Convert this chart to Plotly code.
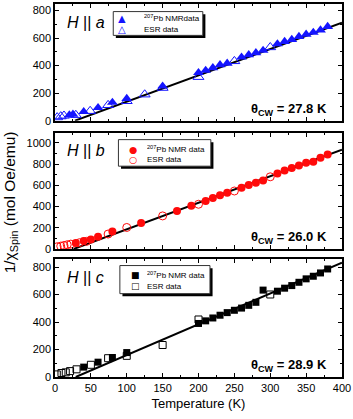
import plotly.graph_objects as go
from plotly.subplots import make_subplots

# ---- data ----
# H || a
nmr_a_T = [20, 25, 40, 60, 80, 100, 150, 200, 210, 220, 230, 240, 260, 270, 280,
           290, 310, 320, 330, 340, 350, 360, 370, 380]
nmr_a = [41, 46, 65, 94, 132, 161, 250, 348, 365, 384, 406, 416, 461, 478, 493,
         510, 557, 574, 589, 611, 627, 641, 658, 683]
esr_a_T = [3, 8, 12.5, 29, 49, 74, 100, 125, 150, 200, 250, 300]
esr_a = [24, 31, 36, 41, 70, 113, 142, 190, 238, 317, 432, 533]
fit_a_T = [27.8, 400]
fit_a = [0, 711]

# H || b
nmr_b_T = [29, 40, 50, 60, 80, 120, 170, 190, 210, 220, 230, 240, 260, 270, 280,
           290, 310, 320, 330, 340, 350, 360, 370, 380]
nmr_b = [56, 75, 90, 116, 166, 244, 359, 407, 453, 481, 506, 531, 578, 603, 625,
         647, 713, 741, 763, 788, 813, 822, 860, 891]
esr_b_T = [3, 8, 12.5, 17, 22, 34, 44, 74, 100, 150, 200, 250, 300]
esr_b = [21, 27, 33, 40, 46, 59, 72, 141, 203, 312, 422, 547, 681]
fit_b_T = [26.0, 400]
fit_b = [0, 937]

# H || c
nmr_c_T = [40, 60, 80, 100, 200, 210, 220, 230, 240, 250, 260, 270, 280, 290,
           310, 320, 330, 340, 350, 360, 370, 380]
nmr_c = [72, 108, 142, 178, 390, 409, 430, 450, 469, 486, 502, 522, 544, 633,
         625, 647, 666, 690, 715, 734, 758, 787]
esr_c_T = [2.5, 9, 15, 21, 30, 50, 74, 100, 150, 200, 300]
esr_c = [19, 29, 34, 43, 56, 89, 137, 154, 233, 419, 601]
fit_c_T = [28.9, 400]
fit_c = [0, 833]

x_ticks = [0, 50, 100, 150, 200, 250, 300, 350, 400]
y_ranges = [[0, 847], [0, 1094], [0, 860]]
panel_labels = ["a", "b", "c"]
theta_cw = ["27.8", "26.0", "28.9"]
nmr_names = ["<sup>207</sup>Pb NMRdata", "<sup>207</sup>Pb NMR data", "<sup>207</sup>Pb NMR data"]

BLUE = "#1414ff"
RED = "#ff0a0a"
BLACK = "#000000"
FONT = "Arial, 'Liberation Sans', sans-serif"

panels = [
    (nmr_a_T, nmr_a, esr_a_T, esr_a, fit_a_T, fit_a, BLUE, "triangle-up", 9.5),
    (nmr_b_T, nmr_b, esr_b_T, esr_b, fit_b_T, fit_b, RED, "circle", 8),
    (nmr_c_T, nmr_c, esr_c_T, esr_c, fit_c_T, fit_c, BLACK, "square", 7),
]
legend_symbols = [("▲", "△"), ("●", "○"), ("■", "□")]

fig = make_subplots(rows=3, cols=1, shared_xaxes=True, vertical_spacing=0.03)

for i, (nT, nv, eT, ev, fT, fv, col, sym, size) in enumerate(panels):
    row = i + 1
    fig.add_trace(go.Scatter(x=fT, y=fv, mode="lines",
                             line=dict(color="black", width=2)), row=row, col=1)
    fig.add_trace(go.Scatter(x=eT, y=ev, mode="markers",
                             marker=dict(symbol=sym + "-open", size=size, color=col,
                                         line=dict(width=1, color=col))), row=row, col=1)
    fig.add_trace(go.Scatter(x=nT, y=nv, mode="markers",
                             marker=dict(symbol=sym, size=size, color=col,
                                         line=dict(width=0))), row=row, col=1)

axis_style = dict(showline=True, linecolor="black", linewidth=1.5, mirror="allticks",
                  ticks="inside", ticklen=4, tickwidth=1, tickcolor="black",
                  showgrid=False, zeroline=False,
                  tickfont=dict(family=FONT, size=11, color="black"))

fig.update_xaxes(range=[0, 400], tickvals=x_ticks,
                 minor=dict(ticks="inside", ticklen=2, dtick=25, tickcolor="black"),
                 **axis_style)
fig.update_xaxes(title=dict(text="Temperature (K)", font=dict(family=FONT, size=13, color="black"),
                            standoff=6), row=3, col=1)
fig.update_yaxes(dtick=200, minor=dict(ticks="inside", ticklen=2, dtick=100, tickcolor="black"),
                 **axis_style)

domains = [[0.6872, 1.0], [0.3432, 0.6541], [0.0, 0.3165]]
for i in range(3):
    fig.update_yaxes(range=y_ranges[i], domain=domains[i], row=i + 1, col=1)

# legend boxes (shadow + white box) and texts
box_x = [(0.203, 0.515), (0.221, 0.543), (0.226, 0.540)]
box_y = [(0.731, 0.935), (0.714, 0.943), (0.706, 0.944)]
sym_x = [0.233, 0.271, 0.279]
txt_x = [0.302, 0.314, 0.315]
line_y = [(0.878, 0.785), (0.866, 0.772), (0.860, 0.767)]
sym_size = [10, 9.5, 9]
colors = [BLUE, RED, BLACK]

for i in range(3):
    n = "" if i == 0 else str(i + 1)
    xr, yr = "x%s domain" % n, "y%s domain" % n
    x0, x1 = box_x[i]
    y0, y1 = box_y[i]
    fig.add_shape(type="rect", xref=xr, yref=yr, x0=x0 + 0.009, x1=x1 + 0.009,
                  y0=y0 - 0.022, y1=y1 - 0.022, fillcolor="black", line=dict(width=0))
    fig.add_shape(type="rect", xref=xr, yref=yr, x0=x0, x1=x1, y0=y0, y1=y1,
                  fillcolor="white", line=dict(color="#333333", width=1))
    for j, label in enumerate([nmr_names[i], "ESR data"]):
        fig.add_annotation(xref=xr, yref=yr, x=sym_x[i], y=line_y[i][j],
                           text=legend_symbols[i][j], showarrow=False, height=10,
                           xanchor="center", yanchor="middle",
                           font=dict(family="DejaVu Sans", size=sym_size[i], color=colors[i]))
        fig.add_annotation(xref=xr, yref=yr, x=txt_x[i], y=line_y[i][j],
                           text=label, showarrow=False, xanchor="left", yanchor="middle",
                           height=10, font=dict(family=FONT, size=8, color="black"))
    # H || axis label
    fig.add_annotation(xref=xr, yref=yr, x=0.035, y=0.845,
                       text="<i>H</i> || <i>%s</i>" % panel_labels[i], showarrow=False,
                       xanchor="left", yanchor="middle",
                       font=dict(family=FONT, size=16, color="black"))
    # Curie-Weiss temperature
    fig.add_annotation(xref=xr, yref=yr, x=0.955, y=0.10,
                       text="<b>θ<sub>CW</sub> = %s K</b>" % theta_cw[i], showarrow=False,
                       xanchor="right", yanchor="middle",
                       font=dict(family=FONT, size=13, color="black"))

fig.add_annotation(xref="paper", yref="paper", x=-0.155, y=0.467,
                   text="1/χ<sub>Spin</sub> (mol Oe/emu)", showarrow=False, textangle=-90,
                   xanchor="center", yanchor="middle",
                   font=dict(family=FONT, size=15.5, color="black"))

fig.update_layout(width=353, height=419, showlegend=False,
                  margin=dict(l=55, r=11, t=2, b=42),
                  paper_bgcolor="white", plot_bgcolor="white",
                  font=dict(family=FONT, color="black"))

# drop the page's default body margin so the figure sits at the window corner
fig.write_html("out.html", config={"displayModeBar": False},
               post_script="document.body.style.margin='0';")
